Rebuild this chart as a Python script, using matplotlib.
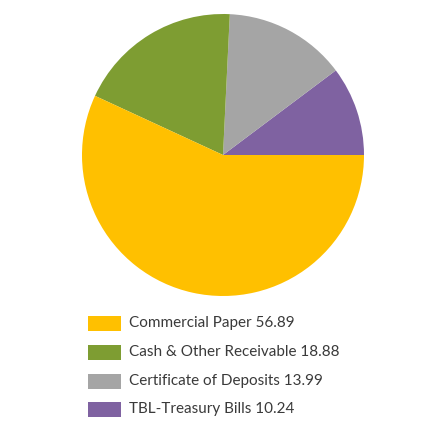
import matplotlib
matplotlib.use('Agg')
import matplotlib.pyplot as plt
from matplotlib.patches import Rectangle

# fund allocation (%)
labels = ['TBL-Treasury Bills', 'Certificate of Deposits', 'Cash & Other Receivable', 'Commercial Paper']
values = [10.24, 13.99, 18.88, 56.89]
colors = ['#7F62A1', '#A5A5A5', '#7E9D32', '#FFC000']

fig = plt.figure(figsize=(4.42, 4.24), dpi=100)
ax = fig.add_axes([82 / 442, 1 - 296 / 424, 282 / 442, 282 / 424])
ax.pie(values, colors=colors, startangle=0, counterclock=True,
       wedgeprops=dict(linewidth=0))
ax.set_xlim(-1, 1)
ax.set_ylim(-1, 1)
ax.set_aspect('equal')

# legend listed largest first
W, H = 442.0, 424.0
rows_y = [323, 352, 381, 409]
for i, yy in enumerate(rows_y):
    k = len(values) - 1 - i
    fig.add_artist(Rectangle((88 / W, 1 - (yy + 7.5) / H), 33 / W, 15 / H,
                             transform=fig.transFigure, color=colors[k], lw=0))
    fig.text(129 / W, 1 - yy / H, '%s %.2f' % (labels[k], values[k]),
             fontsize=11, family='Lato', color='#3A3A3A', va='center')

fig.savefig('out.png', dpi=100)
